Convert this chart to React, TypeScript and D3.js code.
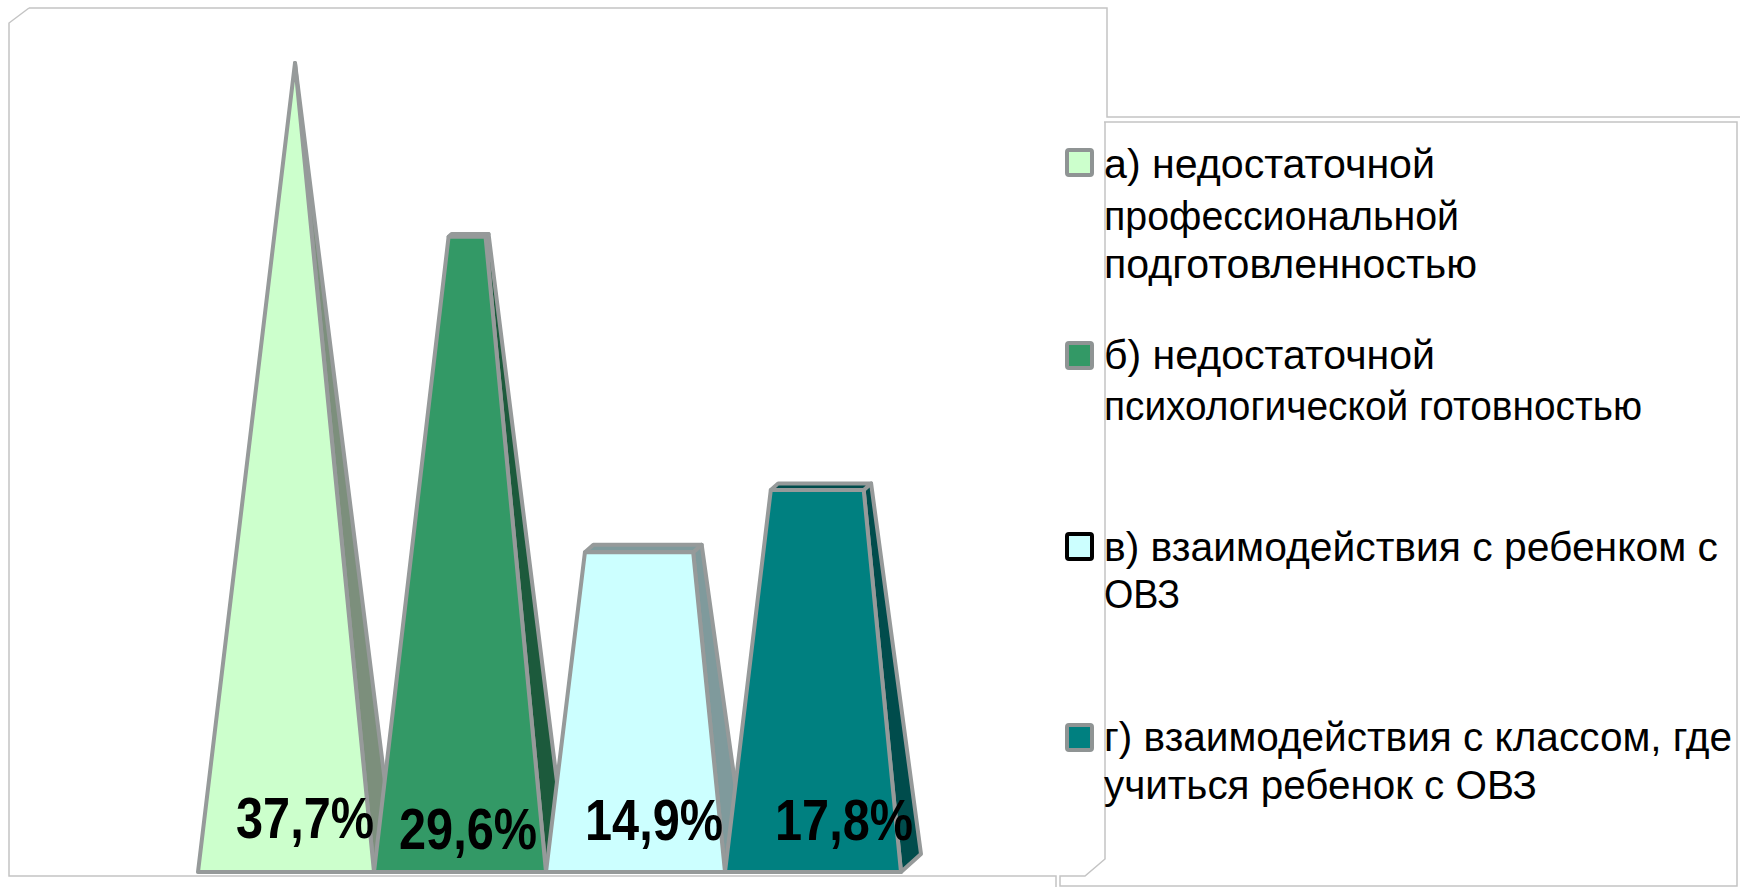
import React from "react";
import * as d3 from "d3";

const categories = ["а", "б", "в", "г"];
const values = [37.7, 29.6, 14.9, 17.8];
const valueLabels = ["37,7%", "29,6%", "14,9%", "17,8%"];
const frontColors = ["#ccffcc", "#339966", "#ccffff", "#008080"];
const sideColors = ["#7c8f7c", "#1c5a3c", "#7f9a9c", "#004c4c"];
const legendLines = [
  ["а) недостаточной", "профессиональной", "подготовленностью"],
  ["б) недостаточной", "психологической готовностью"],
  ["в) взаимодействия с ребенком с", "ОВЗ"],
  ["г) взаимодействия с классом, где", "учиться ребенок с ОВЗ"],
];

const legendWidths = [[331, 355, 373], [331, 538], [614, 76], [628, 433]];
const legendBaselines = [[178, 230, 278], [369, 420], [561, 608], [751, 799]];
const swatchTops = [150, 343, 534, 725];
const labelPos = [[236, 838], [399, 849], [585, 840], [775, 840]];

const xEdge = d3.scaleLinear().domain([0, 1, 2, 3, 4]).range([198, 374, 546, 725, 901]);
const y = d3.scaleLinear().domain([0, 37.7]).range([872, 63]);
const DX = 20, DY = -18, APEX = 9, TOP_DEPTH = 0.7;

const line = d3.line<[number, number]>();
const lerp = (a: number, b: number, t: number) => a + (b - a) * t;

function Bar({ i }: { i: number }) {
  const x0 = xEdge(i);
  const x1 = xEdge(i + 1);
  const base = y(0);
  const top = y(values[i]);
  const t = values[i] / 37.7;
  const ax = (x0 + x1) / 2 + APEX;
  const fl0: [number, number] = [x0, base];
  const fr0: [number, number] = [x1, base];
  const br0: [number, number] = [x1 + DX, base + DY];
  const fl1: [number, number] = [lerp(x0, ax, t), top];
  const fr1: [number, number] = [lerp(x1, ax, t), top];
  const d = (1 - t) * TOP_DEPTH;
  const br1: [number, number] = [fr1[0] + DX * d, top + DY * d];
  const bl1: [number, number] = [fl1[0] + DX * d, top + DY * d];
  const common = { stroke: "#969a9a", strokeWidth: 4, strokeLinejoin: "round" as const };
  return (
    <g>
      <path d={line([fr0, br0, br1, fr1])! + "Z"} fill={sideColors[i]} {...common} />
      <path d={line([fl1, bl1, br1, fr1])! + "Z"} fill={sideColors[i]} {...common} />
      <path d={line([fl0, fr0, fr1, fl1])! + "Z"} fill={frontColors[i]} {...common} />
    </g>
  );
}

export default function App() {
  return (
    <svg width={1740} height={887} style={{ position: "absolute", left: 0, top: 0, display: "block" }}>
      <rect width={1740} height={887} fill="#fff" />
      <path d="M29,8H1107V117H1740" fill="none" stroke="#c4c4c4" strokeWidth={1.5} />
      <path d="M29,8L9,23V876H1056V887" fill="none" stroke="#c4c4c4" strokeWidth={1.5} />
      <path d="M1104,122H1737V886H1060V876H1085L1105,859V122" fill="none" stroke="#c4c4c4" strokeWidth={1.5} />
      {categories.map((_, i) => <Bar key={i} i={i} />)}
      {valueLabels.map((l, i) => (
        <text key={l} x={labelPos[i][0]} y={labelPos[i][1]} textLength={138} lengthAdjust="spacingAndGlyphs"
          fontFamily="'Liberation Sans'" fontWeight={700} fontSize={58} fill="#000">{l}</text>
      ))}
      {legendLines.map((lines, i) => (
        <g key={i}>
          <rect x={1067} y={swatchTops[i]} width={25} height={25} rx={2} fill={frontColors[i]}
            stroke={i === 2 ? "#000" : "#8f9494"} strokeWidth={4} />
          {lines.map((s, j) => (
            <text key={s} x={1104} y={legendBaselines[i][j]} textLength={legendWidths[i][j]} lengthAdjust="spacingAndGlyphs"
              fontFamily="'Liberation Sans'" fontSize={40} fill="#000">{s}</text>
          ))}
        </g>
      ))}
    </svg>
  );
}
